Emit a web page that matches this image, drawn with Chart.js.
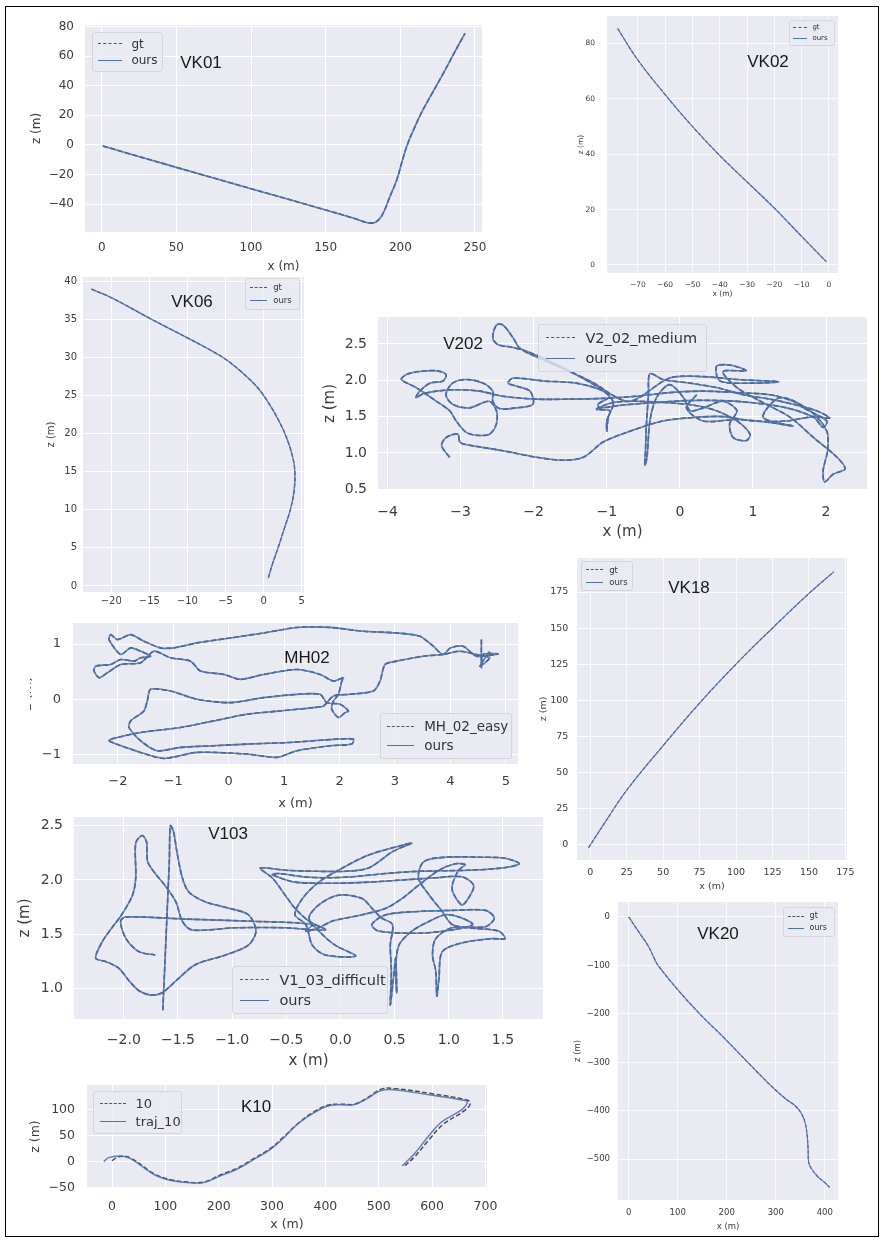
<!DOCTYPE html>
<html>
<head>
<meta charset="utf-8">
<script src="https://cdn.jsdelivr.net/npm/chart.js@4"></script>
<style>
  body { margin: 0; background: #fff; width: 883px; height: 1240px; position: relative; overflow: hidden; }
  #frame { position: absolute; left: 5px; top: 6px; width: 872px; height: 1229px; border: 1.5px solid #000; }
  canvas { position: absolute; }
  .tag { position: absolute; font-family: "Liberation Sans", Arial, sans-serif; color: #1a1a1a;
         transform: translate(-50%, -50%); white-space: nowrap; z-index: 2; }
  .leg { position: absolute; box-sizing: border-box; background: rgba(234,234,242,0.8);
         border: 1px solid #d4d4dc; border-radius: 3px; color: #333; z-index: 3;
         font-family: "DejaVu Sans", sans-serif; display: flex; flex-direction: column;
         justify-content: space-evenly; padding-left: 0.45em; }
  .leg div { display: flex; align-items: center; white-space: nowrap; line-height: 1; }
  .leg i { display: inline-block; width: 2em; height: 0; margin-right: 0.75em; }
</style>
</head>
<body>
<div id="frame"></div>
<script>
// ---- trajectories (x, z); gt and ours overlap except in K10 ----
const vk01Traj = [[0.7,-0.7],[50,-15.2],[100,-29.6],[150,-44],[170,-50],[178,-52.6],[183,-52.4],[186.5,-49.5],
  [189.5,-44],[193,-35],[197.6,-23.7],[201.5,-10],[205,1],[209,10.5],[214,21.5],[220,32.6],[228.8,48.4],[236,62],[243.3,75.5]];
const vk02Traj = [[-77.4,85.4],[-70,74],[-60,61.5],[-50,50],[-40,39.5],[-30,30],[-20,20.5],[-10,10.3],[-1,1.2]];
const vk06Traj = [[-22.6,39],[-20,37.9],[-15,35.2],[-10,32.6],[-7,31],[-5,29.8],[-3,28.2],[-1,26.3],[0.5,24.3],
  [2,21.7],[3,19.5],[3.8,17],[4.1,15],[4,12.5],[3.5,10],[2.7,7.5],[1.9,5],[1.2,3],[0.6,1]];
const vk18Traj = [[-1.2,-2.4],[10,15],[25,37.5],[50,68.5],[75,98],[100,125],[125,150],[150,174],[167,189]];
const vk20Traj = [[0,0],[20,-30],[40,-60],[52,-85],[60,-100],[100,-150],[145,-200],[195,-250],[243,-300],
  [290,-348],[320,-375],[340,-390],[352,-405],[360,-425],[364,-450],[366,-480],[367,-505],[372,-518],[385,-535],[400,-548],[410,-558]];
const k10Gt = [[0,2],[15,10],[35,7],[78,-23],[110,-35],[141,-39.5],[172,-39.5],[205,-25],[236,-12],[268,7],[299,27],
  [324,50],[350,75],[380,97],[405,109],[430,111],[455,111],[480,124],[505,140],[530,141],[600,131],[668,118],[671,110],
  [660,98],[620,71],[594,42],[568,10],[547,-10]];
const k10Ours = [[-15.7,0],[-6,7.7],[15.6,10.8],[34,6.4],[78,-24.4],[109,-36],[141,-40.4],[172,-40.4],[203,-27.6],
  [234,-14.8],[266,4.4],[297,23.7],[322,46],[347,71.7],[378,94],[403,107],[428,110],[453,110],[478,121.7],[503,137],
  [528,139],[600,128],[662,118],[666,113],[656,100.6],[616,75],[591,46],[566,14],[544,-8.5]];
const v202Traj = [[-3.15,0.94],[-3.26,1.10],[-3.20,1.21],[-3.04,1.26],[-3.01,1.15],[-2.95,1.12],[-2.42,1.03],[-1.96,0.94],
  [-1.60,0.90],[-1.32,0.94],[-1.05,1.15],[-0.68,1.30],[-0.23,1.44],[0.23,1.49],[0.59,1.50],[1.00,1.44],[1.46,1.44],[1.83,1.50],
  [2.05,1.48],[1.87,1.58],[1.55,1.67],[1.23,1.74],[0.87,1.80],[0.50,1.90],[0.14,1.96],[-0.23,2.01],[-0.41,2.09],[-0.43,1.80],
  [-0.46,1.35],[-0.47,1.03],[-0.48,0.83],[-0.45,0.94],[-0.41,1.44],[-0.32,1.76],[-0.14,1.94],[0.05,1.76],[0.14,1.58],[0.32,1.62],
  [0.59,1.71],[0.78,1.58],[0.68,1.40],[0.73,1.21],[0.91,1.17],[0.96,1.26],[0.78,1.44],[0.50,1.58],[0.23,1.65],[-0.14,1.69],
  [-0.59,1.71],[-0.87,1.70],[-1.05,1.65],[-1.14,1.60],[-0.96,1.58],[-1.00,1.44],[-1.00,1.30],[-0.98,1.49],[-0.91,1.69],[-1.05,1.85],
  [-1.42,1.96],[-1.87,1.99],[-2.28,2.03],[-2.35,1.96],[-2.24,1.92],[-2.05,1.85],[-2.01,1.67],[-2.24,1.62],[-2.47,1.61],[-2.56,1.71],
  [-2.56,1.85],[-2.69,1.96],[-2.92,2.01],[-3.11,1.96],[-3.20,1.80],[-3.11,1.67],[-2.88,1.62],[-2.61,1.71],[-2.51,1.58],[-2.51,1.40],
  [-2.60,1.26],[-2.74,1.24],[-2.92,1.28],[-3.06,1.44],[-3.15,1.58],[-3.33,1.71],[-3.61,1.90],[-3.81,2.01],[-3.74,2.08],[-3.56,2.12],
  [-3.33,2.13],[-3.20,2.08],[-3.24,1.99],[-3.42,1.96],[-3.56,1.85],[-3.61,1.76],[-3.52,1.81],[-3.33,1.85],[-3.06,1.87],[-2.74,1.85],
  [-2.42,1.78],[-1.96,1.74],[-1.51,1.74],[-1.05,1.75],[-0.59,1.78],[-0.14,1.83],[0.32,1.85],[0.78,1.83],[1.23,1.80],[1.55,1.71],
  [1.69,1.62],[2.01,1.44],[1.96,1.35],[1.83,1.49],[1.46,1.62],[1.00,1.69],[0.55,1.72],[0.09,1.72],[-0.37,1.69],[-0.78,1.66],
  [-1.10,1.62],[-1.12,1.67],[-0.96,1.78],[-1.14,1.94],[-1.51,2.12],[-1.87,2.28],[-2.19,2.44],[-2.28,2.58],[-2.42,2.76],[-2.51,2.76],
  [-2.56,2.58],[-2.49,2.49],[-2.33,2.46],[-2.10,2.40],[-1.78,2.26],[-1.42,2.08],[-1.05,1.87],[-0.68,1.71],[-0.14,2.03],[0.32,2.05],
  [0.78,2.01],[1.35,1.98],[1.00,1.96],[0.55,1.99],[0.50,2.19],[0.68,2.21],[0.91,2.13],[0.59,2.12],[0.78,1.90],[1.14,1.69],
  [1.51,1.49],[1.83,1.21],[2.15,0.94],[2.26,0.78],[2.10,0.71],[1.98,0.60],[1.96,0.76],[2.02,1.03],[2.01,1.30],[1.78,1.58],
  [1.37,1.76],[1.14,1.49],[1.55,1.37],[1.23,1.42],[0.78,1.46],[0.32,1.44],[0.09,1.62],[0.23,1.80]];
const mh02Traj = [[4.56,1.08],[4.56,0.57],[4.59,0.81],[4.86,0.82],[4.47,0.78],[4.23,0.96],[4.00,0.93],[3.87,0.81],[3.69,0.96],
  [3.45,1.14],[3.03,1.20],[2.43,1.23],[1.83,1.30],[1.23,1.30],[0.63,1.20],[0.03,1.11],[-0.57,1.02],[-0.99,0.93],[-1.23,0.93],
  [-1.53,1.05],[-1.77,1.17],[-2.01,1.08],[-2.13,1.17],[-2.16,1.08],[-1.95,0.81],[-1.77,0.93],[-1.59,0.87],[-1.41,0.78],[-1.59,0.75],
  [-1.71,0.69],[-1.95,0.72],[-2.13,0.63],[-2.40,0.60],[-2.43,0.51],[-2.34,0.39],[-2.19,0.48],[-1.95,0.63],[-1.59,0.66],[-1.35,0.87],
  [-1.05,0.75],[-0.69,0.69],[-0.51,0.51],[-0.09,0.45],[0.21,0.36],[0.63,0.45],[1.23,0.54],[1.65,0.45],[1.89,0.33],[2.07,0.39],
  [2.04,0.33],[1.98,0.09],[1.89,-0.03],[1.86,-0.18],[1.98,-0.33],[2.10,-0.24],[2.16,-0.21],[2.01,-0.09],[1.77,-0.06],[1.65,0.09],
  [1.23,0.09],[0.63,0.03],[0.03,-0.06],[-0.57,0.00],[-1.05,0.15],[-1.41,0.18],[-1.47,-0.03],[-1.53,-0.21],[-1.77,-0.39],[-1.80,-0.51],
  [-1.59,-0.75],[-1.29,-0.93],[-0.87,-0.87],[-0.27,-0.84],[0.33,-0.81],[1.11,-0.78],[1.53,-0.75],[1.95,-0.72],[2.25,-0.72],[2.22,-0.81],
  [1.83,-0.84],[1.23,-0.93],[0.87,-1.05],[0.33,-0.99],[-0.57,-0.96],[-1.17,-1.07],[-1.59,-0.96],[-2.16,-0.75],[-2.01,-0.69],[-1.59,-0.60],
  [-0.87,-0.51],[-0.27,-0.39],[0.33,-0.27],[0.93,-0.21],[1.53,-0.15],[1.71,-0.12],[1.89,0.06],[2.19,0.09],[2.61,0.15],[2.73,0.33],
  [2.82,0.63],[3.03,0.69],[3.51,0.78],[3.87,0.81],[4.17,0.87],[4.47,0.81],[4.71,0.75],[4.53,0.60],[4.71,0.87]];
const v103Traj = [[-1.64,0.80],[-1.62,1.25],[-1.60,1.71],[-1.58,2.17],[-1.57,2.50],[-1.54,2.44],[-1.51,2.26],[-1.46,2.02],
  [-1.40,1.89],[-1.25,1.80],[-1.03,1.74],[-0.85,1.68],[-0.78,1.53],[-0.85,1.40],[-1.06,1.31],[-1.34,1.22],[-1.52,1.07],[-1.65,0.96],
  [-1.75,0.94],[-1.86,0.98],[-1.95,1.07],[-2.05,1.19],[-2.17,1.25],[-2.26,1.28],[-2.20,1.43],[-2.11,1.56],[-2.02,1.68],[-1.92,1.86],
  [-1.89,2.02],[-1.89,2.34],[-1.83,2.41],[-1.79,2.35],[-1.78,2.17],[-1.71,2.06],[-1.62,1.95],[-1.52,1.80],[-1.46,1.62],[-1.37,1.54],
  [-0.97,1.56],[-0.51,1.56],[-0.14,1.54],[-0.29,1.62],[-0.42,1.74],[-0.51,1.86],[-0.63,2.02],[-0.74,2.11],[-0.51,2.09],[-0.20,2.08],
  [0.05,2.08],[0.26,2.11],[0.48,2.26],[0.66,2.34],[0.57,2.32],[0.26,2.23],[-0.02,2.09],[-0.20,1.98],[-0.35,1.83],[-0.42,1.68],
  [-0.32,1.59],[-0.26,1.40],[-0.14,1.31],[0.14,1.30],[-0.05,1.40],[-0.20,1.53],[-0.29,1.65],[-0.20,1.77],[-0.02,1.86],[0.20,1.83],
  [0.29,1.74],[0.38,1.65],[0.48,1.59],[0.46,1.40],[0.47,1.16],[0.46,0.85],[0.49,1.10],[0.51,1.28],[0.52,0.96],[0.51,1.19],
  [0.54,1.40],[0.66,1.53],[0.82,1.62],[0.97,1.68],[1.12,1.65],[1.22,1.59],[1.03,1.54],[0.72,1.51],[0.35,1.53],[0.29,1.59],
  [0.42,1.68],[0.72,1.71],[1.03,1.72],[1.34,1.72],[1.42,1.65],[1.34,1.57],[1.03,1.56],[0.88,1.46],[0.85,1.31],[0.88,1.16],
  [0.89,0.93],[0.91,1.10],[0.94,1.34],[1.12,1.42],[1.40,1.46],[1.52,1.46],[1.46,1.53],[1.18,1.56],[1.03,1.59],[0.94,1.71],
  [0.82,1.86],[0.72,2.02],[0.77,2.17],[0.97,2.21],[1.28,2.21],[1.52,2.20],[1.65,2.15],[1.49,2.11],[1.18,2.09],[0.72,2.08],
  [0.42,2.06],[0.11,2.03],[-0.14,2.02],[-0.35,2.03],[-0.57,2.06],[-0.63,2.05],[-0.42,1.98],[-0.05,1.97],[0.26,1.98],[0.57,2.00],
  [0.88,2.02],[1.12,2.03],[1.23,1.95],[1.18,1.83],[1.12,1.77],[1.03,1.92],[1.09,2.09],[1.15,2.14],[1.06,2.15],[0.91,2.09],
  [0.72,1.95],[0.57,1.83],[0.42,1.74],[0.20,1.68],[0.05,1.65],[-0.08,1.62],[-0.20,1.56],[-0.32,1.53],[-0.26,1.59],[-0.82,1.62],
  [-1.43,1.64],[-1.98,1.66],[-2.03,1.62],[-1.98,1.46],[-1.86,1.34],[-1.71,1.31]];

// ---- tick labels ----
const vk01XTicks = [0, 50, 100, 150, 200, 250];
const vk01ZTicks = [-40, -20, 0, 20, 40, 60, 80];
const vk02XTicks = [-70, -60, -50, -40, -30, -20, -10, 0];
const vk02ZTicks = [0, 20, 40, 60, 80];
const vk06XTicks = [-20, -15, -10, -5, 0, 5];
const vk06ZTicks = [0, 5, 10, 15, 20, 25, 30, 35, 40];
const v202XTicks = [-4, -3, -2, -1, 0, 1, 2];
const v202ZTicks = [0.5, 1.0, 1.5, 2.0, 2.5];
const mh02XTicks = [-2, -1, 0, 1, 2, 3, 4, 5];
const mh02ZTicks = [-1, 0, 1];
const vk18XTicks = [0, 25, 50, 75, 100, 125, 150, 175];
const vk18ZTicks = [0, 25, 50, 75, 100, 125, 150, 175];
const v103XTicks = [-2.0, -1.5, -1.0, -0.5, 0.0, 0.5, 1.0, 1.5];
const v103ZTicks = [1.0, 1.5, 2.0, 2.5];
const vk20XTicks = [0, 100, 200, 300, 400];
const vk20ZTicks = [-500, -400, -300, -200, -100, 0];
const k10XTicks = [0, 100, 200, 300, 400, 500, 600, 700];
const k10ZTicks = [-50, 0, 50, 100];

const BLUE = '#4C72B0';
const TXT = '#3c3c3c';

const bgPlugin = {
  id: 'darkgrid',
  beforeDraw(chart) {
    const { ctx, chartArea: a } = chart;
    ctx.save();
    ctx.fillStyle = '#EAEAF2';
    ctx.fillRect(a.left, a.top, a.width, a.height);
    ctx.restore();
  }
};

function fmt(v, d) {
  return (v < 0 ? '\u2212' : '') + Math.abs(v).toFixed(d);
}

function panel(p) {
  const [L, T, R, B] = p.box;
  const top = T - p.padTop;
  const cv = document.createElement('canvas');
  cv.width = R + p.padRight - p.left;
  cv.height = p.bottom - top;
  cv.style.left = p.left + 'px';
  cv.style.top = top + 'px';
  document.body.appendChild(cv);

  const font = { family: 'DejaVu Sans', size: p.font };
  const tfont = { family: 'DejaVu Sans', size: p.tfont || p.font };
  const pts = arr => arr.map(([x, y]) => ({ x, y }));
  const grid = { color: '#ffffff', lineWidth: p.gw || 1, drawTicks: false };
  const tension = p.tension ?? 0.4;

  new Chart(cv, {
    type: 'scatter',
    data: {
      datasets: [
        { label: p.labels[1], data: pts(p.ours), showLine: true, borderColor: 'rgba(76,114,176,0.88)',
          borderWidth: p.lw, pointRadius: 0, tension },
        { label: p.labels[0], data: pts(p.gt), showLine: true, borderColor: '#4a4a4a',
          borderWidth: p.lw, borderDash: [p.lw * 3.2, p.lw * 1.6], pointRadius: 0, tension }
      ]
    },
    options: {
      responsive: false,
      animation: false,
      devicePixelRatio: 1,
      layout: { padding: { top: p.padTop, right: p.padRight, left: 0, bottom: 0 } },
      plugins: { legend: { display: false }, tooltip: { enabled: false } },
      scales: {
        x: {
          type: 'linear', min: p.xr[0], max: p.xr[1],
          afterBuildTicks: s => { s.ticks = p.xt.map(v => ({ value: v })); },
          afterFit: s => { s.height = p.bottom - B; s.paddingLeft = 0; s.paddingRight = 0; },
          ticks: { font, color: TXT, padding: p.padX, maxRotation: 0, autoSkip: false,
                   callback: v => fmt(v, p.dx || 0) },
          grid, border: { display: false },
          title: { display: p.xTitle !== false, text: 'x (m)', font: tfont, color: TXT, padding: { top: 0, bottom: 0 } }
        },
        y: {
          type: 'linear', min: p.yr[0], max: p.yr[1],
          afterBuildTicks: s => { s.ticks = p.yt.map(v => ({ value: v })); },
          afterFit: s => { s.width = L - p.left; s.paddingTop = 0; s.paddingBottom = 0; },
          ticks: { font, color: TXT, padding: p.padY, autoSkip: false,
                   callback: v => fmt(v, p.dy || 0) },
          grid, border: { display: false },
          title: { display: true, text: 'z (m)', font: tfont, color: TXT, padding: { top: p.ytp || 0, bottom: 0 } }
        }
      }
    },
    plugins: [bgPlugin]
  });

  const tag = document.createElement('div');
  tag.className = 'tag';
  tag.textContent = p.name;
  tag.style.left = p.tag[0] + 'px';
  tag.style.top = p.tag[1] + 'px';
  tag.style.fontSize = (p.tagSize || 17) + 'px';
  document.body.appendChild(tag);

  const lg = document.createElement('div');
  lg.className = 'leg';
  const b = p.leg;
  Object.assign(lg.style, {
    left: b[0] + 'px', top: b[1] + 'px', width: (b[2] - b[0]) + 'px', height: (b[3] - b[1]) + 'px',
    fontSize: p.legFont + 'px'
  });
  const sw = Math.max(1, p.legFont / 9).toFixed(1);
  lg.innerHTML =
    `<div><i style="border-top:${sw}px dashed #555"></i>${p.labels[0]}</div>` +
    `<div><i style="border-top:${sw}px solid ${BLUE}"></i>${p.labels[1]}</div>`;
  document.body.appendChild(lg);
}

panel({ name: 'VK01', box: [85, 25, 482, 232], left: 30, bottom: 274, padTop: 8, padRight: 8,
  font: 12, padX: 9, padY: 11, xr: [-11.2, 254.7], yr: [-58.9, 81.1], xt: vk01XTicks, yt: vk01ZTicks,
  gt: vk01Traj, ours: vk01Traj, lw: 1.6, labels: ['gt', 'ours'],
  tag: [201, 63], leg: [92, 32, 163, 72], legFont: 12 });

panel({ name: 'VK02', box: [607, 16, 838, 273], left: 577, bottom: 299, padTop: 6, padRight: 6,
  font: 7.5, padX: 7.5, padY: 12, xr: [-81.3, 3.3], yr: [-2.9, 89.9], xt: vk02XTicks, yt: vk02ZTicks,
  gt: vk02Traj, ours: vk02Traj, lw: 1.1, gw: 0.8, labels: ['gt', 'ours'],
  tag: [768, 62], leg: [789, 20, 835, 46], legFont: 7 });

panel({ name: 'VK06', box: [83, 277, 304, 592], left: 45, bottom: 612, padTop: 3, padRight: 6,
  font: 10, padX: 3, padY: 6, xr: [-23.7, 5.3], yr: [-0.8, 40.6], xt: vk06XTicks, yt: vk06ZTicks,
  gt: vk06Traj, ours: vk06Traj, lw: 1.3, labels: ['gt', 'ours'], xTitle: false,
  tag: [192, 302], leg: [245, 278, 300, 310], legFont: 8.5 });

panel({ name: 'V202', box: [378, 317, 867, 490], left: 321, bottom: 541, padTop: 4, padRight: 4,
  font: 14, tfont: 15, padX: 13.5, padY: 11, xr: [-4.13, 2.56], yr: [0.49, 2.87], xt: v202XTicks, yt: v202ZTicks,
  dy: 1, gt: v202Traj, ours: v202Traj, lw: 1.6, tension: 0.3, labels: ['V2_02_medium', 'ours'],
  tag: [463, 344], leg: [538, 324, 707, 372], legFont: 14.5 });

panel({ name: 'MH02', box: [73, 623, 518, 764], left: 30, bottom: 811, padTop: 4, padRight: 4,
  font: 13, padX: 10, padY: 12, ytp: -9.8, xr: [-2.81, 5.22], yr: [-1.17, 1.38], xt: mh02XTicks, yt: mh02ZTicks,
  gt: mh02Traj, ours: mh02Traj, lw: 1.6, tension: 0.25, labels: ['MH_02_easy', 'ours'],
  tag: [307, 658], leg: [380, 713, 512, 759], legFont: 13.5 });

panel({ name: 'VK18', box: [577, 558, 847, 860], left: 538, bottom: 892, padTop: 4, padRight: 10,
  font: 9.5, padX: 6.6, padY: 8.7, xr: [-9.1, 176.1], yr: [-10.9, 198.6], xt: vk18XTicks, yt: vk18ZTicks,
  gt: vk18Traj, ours: vk18Traj, lw: 1.1, gw: 0.8, labels: ['gt', 'ours'],
  tag: [689, 588], leg: [581, 561, 633, 591], legFont: 8.5 });

panel({ name: 'V103', box: [74, 817, 543, 1019], left: 16, bottom: 1070, padTop: 4, padRight: 4,
  font: 14, tfont: 15, padX: 13, padY: 11, xr: [-2.46, 1.87], yr: [0.72, 2.58], xt: v103XTicks, yt: v103ZTicks,
  dx: 1, dy: 1, gt: v103Traj, ours: v103Traj, lw: 1.6, tension: 0.3, labels: ['V1_03_difficult', 'ours'],
  tag: [228, 834], leg: [232, 966, 388, 1014], legFont: 14.5 });

panel({ name: 'VK20', box: [618, 902, 838, 1200], left: 573, bottom: 1232, padTop: 4, padRight: 4,
  font: 8.5, padX: 7.2, padY: 8, xr: [-21.8, 427], yr: [-584, 30.9], xt: vk20XTicks, yt: vk20ZTicks,
  gt: vk20Traj, ours: vk20Traj, lw: 1.1, gw: 0.8, labels: ['gt', 'ours'],
  tag: [718, 934], leg: [783, 907, 835, 937], legFont: 8 });

panel({ name: 'K10', box: [87, 1085, 487, 1188], left: 28, bottom: 1232, padTop: 4, padRight: 12,
  font: 12.5, padX: 11, padY: 12, xr: [-46.9, 703], yr: [-51, 148], xt: k10XTicks, yt: k10ZTicks,
  gt: k10Gt, ours: k10Ours, lw: 1.5, labels: ['10', 'traj_10'],
  tag: [256, 1107], leg: [93, 1091, 182, 1134], legFont: 13 });
</script>
</body>
</html>
